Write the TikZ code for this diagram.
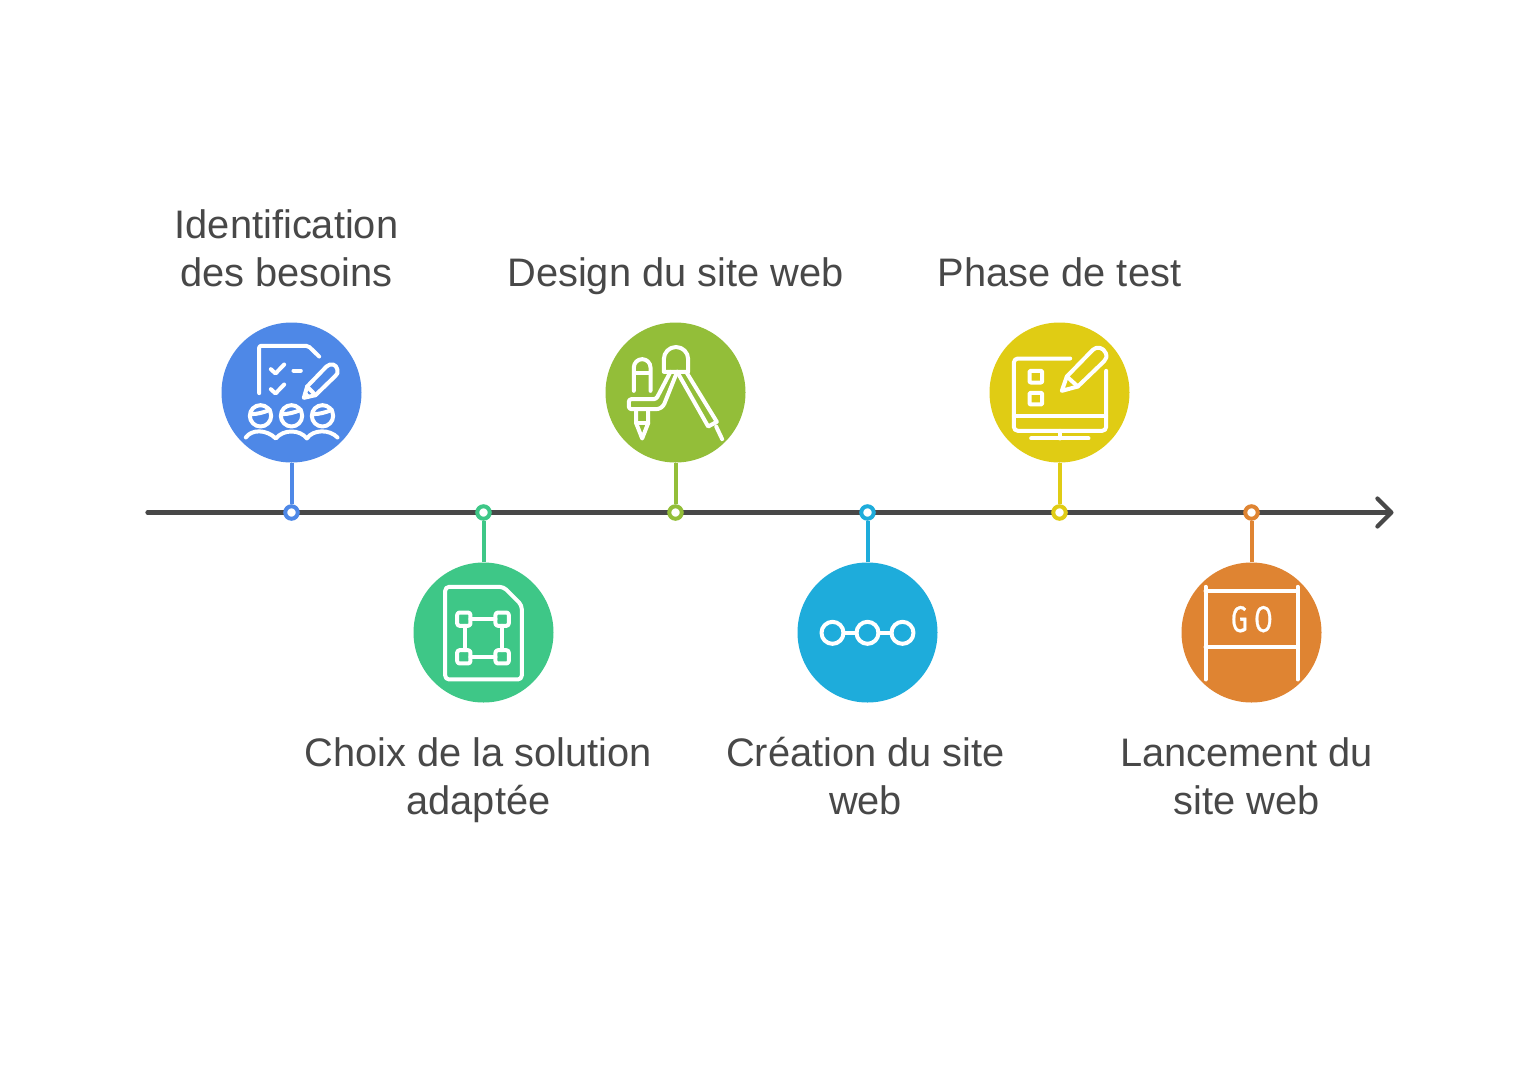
\documentclass[tikz,border=0pt]{standalone}
\usepackage{fontspec}
\setmainfont{Liberation Sans}
\newfontfamily\gofont[LetterSpace=24,FakeBold=0.8]{Fira Sans}
\usetikzlibrary{arrows.meta}
\definecolor{cblue}{HTML}{4E88E7}
\definecolor{cgreen}{HTML}{3EC787}
\definecolor{colive}{HTML}{93BE39}
\definecolor{ccyan}{HTML}{1EACDB}
\definecolor{cyellow}{HTML}{E0CC14}
\definecolor{corange}{HTML}{DF8432}
\definecolor{ink}{HTML}{484848}
\newcommand{\capstrut}{\rule[-14.4pt]{0pt}{48pt}}
\tikzset{
  disc/.style={circle,draw=none,fill=#1,minimum size=140pt,inner sep=0pt},
  dot/.style={circle,draw=#1,fill=white,line width=4pt,minimum size=12.5pt,inner sep=0pt},
  stem/.style={draw=#1,line width=4pt},
  axisline/.style={draw=ink,line width=4.2pt,line cap=round},
  caption/.style={text=ink,align=center,inner sep=0pt,font=\fontsize{39.8}{48}\selectfont},
  ic/.style={draw=white,line width=4pt,line cap=round,line join=round},
  zoomed/.style={shift={#1},x=0.3333pt,y=-0.3333pt}
}
\begin{document}
\begin{tikzpicture}[x=1pt,y=-1pt]
\fill[white] (0,0) rectangle (1540,1085);
\useasboundingbox (0,0) rectangle (1540,1085);
\begin{scope}[shift={(0.5,0.5)}]
\coordinate (axisstart) at (147,512);
\coordinate (axisend) at (1393,512);
\draw[axisline,-{Straight Barb[length=14pt,width=28pt,line width=4.2pt,round]}] (axisstart) -- (axisend);

\foreach \n/\x/\y/\c in {1/291/392/cblue,2/483/632/cgreen,3/675/392/colive,4/867/632/ccyan,5/1059/392/cyellow,6/1251/632/corange}{
  \node[disc=\c] (c\n) at (\x,\y) {};
  \node[dot=\c] (d\n) at (\x,512) {};
  \draw[stem=\c] (c\n) -- (d\n);
}

\node[caption] (t1) at (286,252.4) {\capstrut Identification\\\capstrut des besoins};
\node[caption] (t2) at (478,780.4) {\capstrut Choix de la solution\\\capstrut adaptée};
\node[caption] (t3) at (675,276.4) {\capstrut Design du site web};
\node[caption] (t4) at (865,780.4) {\capstrut Création du site\\\capstrut web};
\node[caption] (t5) at (1059,276.4) {\capstrut Phase de test};
\node[caption] (t6) at (1246,780.4) {\capstrut Lancement du\\\capstrut site web};

% Icon 1
\begin{scope}[zoomed={(211,312)}]
  \draw[ic,rounded corners=2pt] (143,242) -- (143,100) -- (290,100) -- (323,132);
  \draw[ic] (178,170) -- (192,183) -- (218,156);
  \draw[ic] (178,230) -- (192,243) -- (218,216);
  \draw[ic] (246,174) -- (268,174);
  \draw[ic] (277,256) -- (287,222) -- (345,162) .. controls (358,150) and (375,155) .. (378,172) .. controls (380,180) and (378,184) .. (372,190) -- (312,248) -- cycle;
  \draw[ic] (287,222) -- (312,248);
  \fill[white] (277,256) -- (283,236) -- (296,250) -- cycle;
  \foreach \cx in {147,240,333}{
    \draw[ic] (\cx,310) circle[radius=32];
    \draw[ic] (\cx-28,305) .. controls (\cx-10,305) and (\cx+10,300) .. (\cx+28,292);
  }
  \draw[ic] (103,375) .. controls (120,350) and (165,350) .. (193,378) .. controls (215,350) and (265,350) .. (286,378) .. controls (305,350) and (355,350) .. (378,375);
\end{scope}

% Icon 2
\begin{scope}[zoomed={(403,553)}]
  \draw[ic,rounded corners=4pt] (125,240) -- (125,100) -- (300,100) -- (355,155) -- (355,378) -- (125,378) -- cycle;
  \foreach \sx/\sy in {181/197,296/197,181/310,296/310}{
    \draw[ic,rounded corners=2.5pt] (\sx-20,\sy-20) rectangle (\sx+20,\sy+20);
  }
  \draw[ic] (201,197) -- (276,197);
  \draw[ic] (201,310) -- (276,310);
  \draw[ic] (185,217) -- (185,290);
  \draw[ic] (296,217) -- (296,290);
\end{scope}

% Icon 3
\begin{scope}[zoomed={(595,312)}]
  \draw[ic] (115,235) -- (115,165) arc[start angle=180,end angle=0,x radius=25,y radius=-25] -- (165,235);
  \draw[ic] (118,180) -- (162,180);
  \draw[ic] (122,292) -- (122,332) -- (140,378) -- (158,332) -- (158,292);
  \draw[ic] (122,332) -- (158,332);
  \draw[ic,rounded corners=2.5pt] (225,178) -- (182,260) -- (100,260) -- (100,290) -- (190,290) -- (204,280) -- (245,178);
  \draw[ic] (205,178) -- (205,140) arc[start angle=180,end angle=0,x radius=36.5,y radius=-36.5] -- (278,178) -- cycle;
  \draw[ic] (245,178) -- (338,342) -- (364,328) -- (272,178);
  \draw[ic] (362,342) -- (380,380);
\end{scope}

% Icon 4
\begin{scope}[zoomed={(787,490)}]
  \foreach \cx in {135,240,345}{ \draw[ic] (\cx,427) circle[radius=33]; }
  \draw[ic] (168,427) -- (207,427);
  \draw[ic] (273,427) -- (312,427);
\end{scope}

% Icon 5
\begin{scope}[zoomed={(979,312)}]
  \draw[ic,rounded corners=4pt] (272,138) -- (103,138) -- (103,355) -- (380,355) -- (380,175);
  \draw[ic] (103,312) -- (380,312);
  \draw[ic] (240,355) -- (240,378);
  \draw[ic] (155,378) -- (327,378);
  \draw[ic,rounded corners=1pt] (150,175) rectangle (188,210);
  \draw[ic,rounded corners=1pt] (150,241) rectangle (188,276);
  \draw[ic] (247,235) -- (262,192) -- (340,112) .. controls (352,100) and (372,105) .. (379,122) .. controls (383,132) and (380,140) .. (374,146) -- (295,222) -- cycle;
  \draw[ic] (262,192) -- (295,222);
\end{scope}

% Icon 6
\begin{scope}[zoomed={(1171,553)}]
  \draw[ic] (102,100) -- (102,378);
  \draw[ic] (378,100) -- (378,378);
  \draw[ic] (102,113) -- (378,113);
  \draw[ic] (102,280) -- (378,280);
  \node[text=white,inner sep=0pt,font=\fontsize{37}{37}\gofont,xscale=0.72] (go) at (241,197) {GO};
\end{scope}
\end{scope}
\end{tikzpicture}
\end{document}
